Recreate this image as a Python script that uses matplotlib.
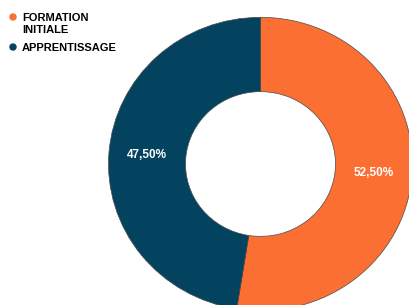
import matplotlib
matplotlib.use("Agg")
import matplotlib.pyplot as plt
from matplotlib.patches import Circle

labels = ["FORMATION\nINITIALE", "APPRENTISSAGE"]
values = [52.5, 47.5]
colors = ["#FB6F32", "#03435F"]

plt.rcParams["font.family"] = ["Liberation Sans", "DejaVu Sans"]

W, H = 410, 305
fig = plt.figure(figsize=(W / 100, H / 100), dpi=100)
ax = fig.add_axes([0, 0, 1, 1])

# the original donut is slightly squashed vertically
sy = 0.965
cx, cy = 260.5, (H - 164) / sy
r_out, r_in = 152, 75

wedges, texts, autotexts = ax.pie(
    values, colors=colors, startangle=90, counterclock=False,
    center=(cx, cy), radius=r_out,
    autopct=lambda p: f"{p:.2f}%".replace(".", ","),
    pctdistance=(r_out + r_in) / 2 / r_out,
    wedgeprops=dict(width=r_out - r_in, edgecolor="#4a4a4a", linewidth=0.5),
    textprops=dict(color="white", fontsize=8.5, fontweight="bold"),
)

ax.set_xlim(0, W)
ax.set_ylim(0, H / sy)
ax.set_aspect("auto")
ax.axis("off")

# legend: dot + bold caps label, top-left corner
y0 = 17
line_step = 12
for i, (lab, c) in enumerate(zip(labels, colors)):
    y = y0 + i * 30
    fig.patches.append(Circle((13, H - y), 3, color=c, transform=None))
    # baseline of a multi-line text sits on its last line
    base = y + 4 + line_step * lab.count("\n")
    fig.text(22 / W, 1 - base / H, lab, fontsize=8, fontweight="bold",
             va="baseline", ha="left", linespacing=1.26)

fig.savefig("out.png", dpi=100)
